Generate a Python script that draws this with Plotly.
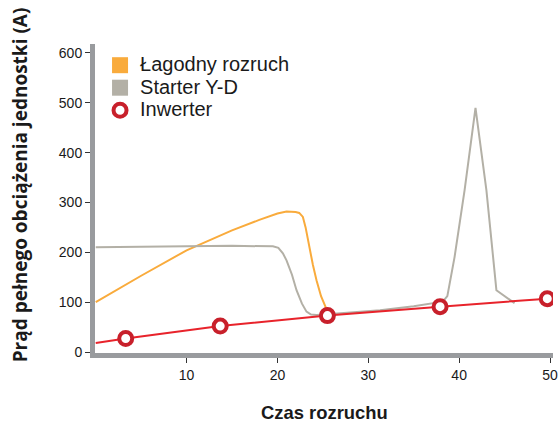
import plotly.graph_objects as go

# ---- data ----
soft_x = [0, 5, 10, 15, 18, 20, 21, 22, 22.4, 22.8, 23.1, 23.5, 23.9, 24.3, 24.8, 25.4, 25.6]
soft_y = [100, 153, 204, 244, 265, 278, 282, 281, 279, 271, 250, 211, 175, 144, 112, 86, 78]

yd_x = [0, 10, 15, 19.5, 20.1, 20.6, 21, 21.6, 22.1, 22.7, 23.2, 23.7, 24.3, 25.5, 31.3, 35, 38.2,
        38.7, 39.1, 39.5, 40.6, 41.8, 43, 44.1, 46.1]
yd_y = [210, 212, 213, 212, 209, 198, 184, 155, 124, 97, 81, 75, 74, 76, 84, 92, 101,
        112, 150, 191, 325, 490, 325, 124, 98]

inv_line_x = [0, 3.3, 13.7, 25.5, 37.9, 49.7]
inv_line_y = [18, 27, 52, 73, 91, 107]
inv_mark_x = [3.3, 13.7, 25.5, 37.9, 49.7]
inv_mark_y = [27, 52, 73, 91, 107]

names = ["Łagodny rozruch", "Starter Y-D", "Inwerter"]
x_ticks = [10, 20, 30, 40, 50]
y_ticks = [0, 100, 200, 300, 400, 500, 600]

ORANGE = "#f9ab3c"
GRAY = "#b3b0a6"
RED_LINE = "#e8232b"
RED_MARK = "#c8202b"


def big(label):
    return '<span style="font-size:20px">' + label + '</span>'


fig = go.Figure()
fig.add_trace(go.Scatter(x=soft_x, y=soft_y, mode="lines", line=dict(color=ORANGE, width=2),
                         showlegend=False, hoverinfo="skip"))
fig.add_trace(go.Scatter(x=yd_x, y=yd_y, mode="lines", line=dict(color=GRAY, width=2),
                         showlegend=False, hoverinfo="skip"))
fig.add_trace(go.Scatter(x=inv_line_x, y=inv_line_y, mode="lines", line=dict(color=RED_LINE, width=2),
                         showlegend=False, hoverinfo="skip"))
fig.add_trace(go.Scatter(x=inv_mark_x, y=inv_mark_y, mode="markers", name=names[2],
                         marker=dict(symbol="circle", size=13, color="white",
                                     line=dict(color=RED_MARK, width=4)),
                         showlegend=False))
# legend entries
fig.add_trace(go.Scatter(x=[None], y=[None], mode="markers", name=big(names[0]),
                         marker=dict(symbol="square", size=18, color=ORANGE)))
fig.add_trace(go.Scatter(x=[None], y=[None], mode="markers", name=big(names[1]),
                         marker=dict(symbol="square", size=18, color=GRAY)))
fig.add_trace(go.Scatter(x=[None], y=[None], mode="markers", name=big(names[2]),
                         marker=dict(symbol="circle", size=13, color="white",
                                     line=dict(color=RED_MARK, width=4))))

axis_common = dict(showgrid=False, zeroline=False, showline=True, linecolor="#999b9e", linewidth=5,
                   ticks="outside", ticklen=5, tickwidth=1, tickcolor="#333333", automargin=False,
                   tickfont=dict(family="Liberation Sans, Arial", size=14, color="#1a1a1a"))

fig.update_layout(
    width=560, height=423,
    margin=dict(l=95, r=7, t=44, b=70),
    paper_bgcolor="white", plot_bgcolor="white",
    xaxis=dict(range=[-0.08, 50.33], tickvals=x_ticks, **axis_common),
    yaxis=dict(range=[-2, 618], tickvals=y_ticks, **axis_common),
    legend=dict(x=0.011, y=0.984, xanchor="left", yanchor="top", bgcolor="rgba(0,0,0,0)",
                font=dict(family="Liberation Sans, Arial", size=15, color="#1a1a1a"), tracegroupgap=0),
    annotations=[
        dict(text="<b>Prąd pełnego obciążenia jednostki (A)</b>", xref="paper", yref="paper",
             x=-0.165, y=0.544, xanchor="center", yanchor="middle", textangle=-90,
             showarrow=False, font=dict(family="Open Sans", size=19, color="#1a1a1a")),
        dict(text="<b>Czas rozruchu</b>", xref="paper", yref="paper",
             x=0.5, y=-0.191, xanchor="center", yanchor="middle",
             showarrow=False, font=dict(family="Liberation Sans, Arial", size=18.4, color="#1a1a1a")),
    ],
)

fig.write_html("out.html", config={"displayModeBar": False},
               post_script="document.body.style.margin='0';document.body.style.overflow='hidden';")
